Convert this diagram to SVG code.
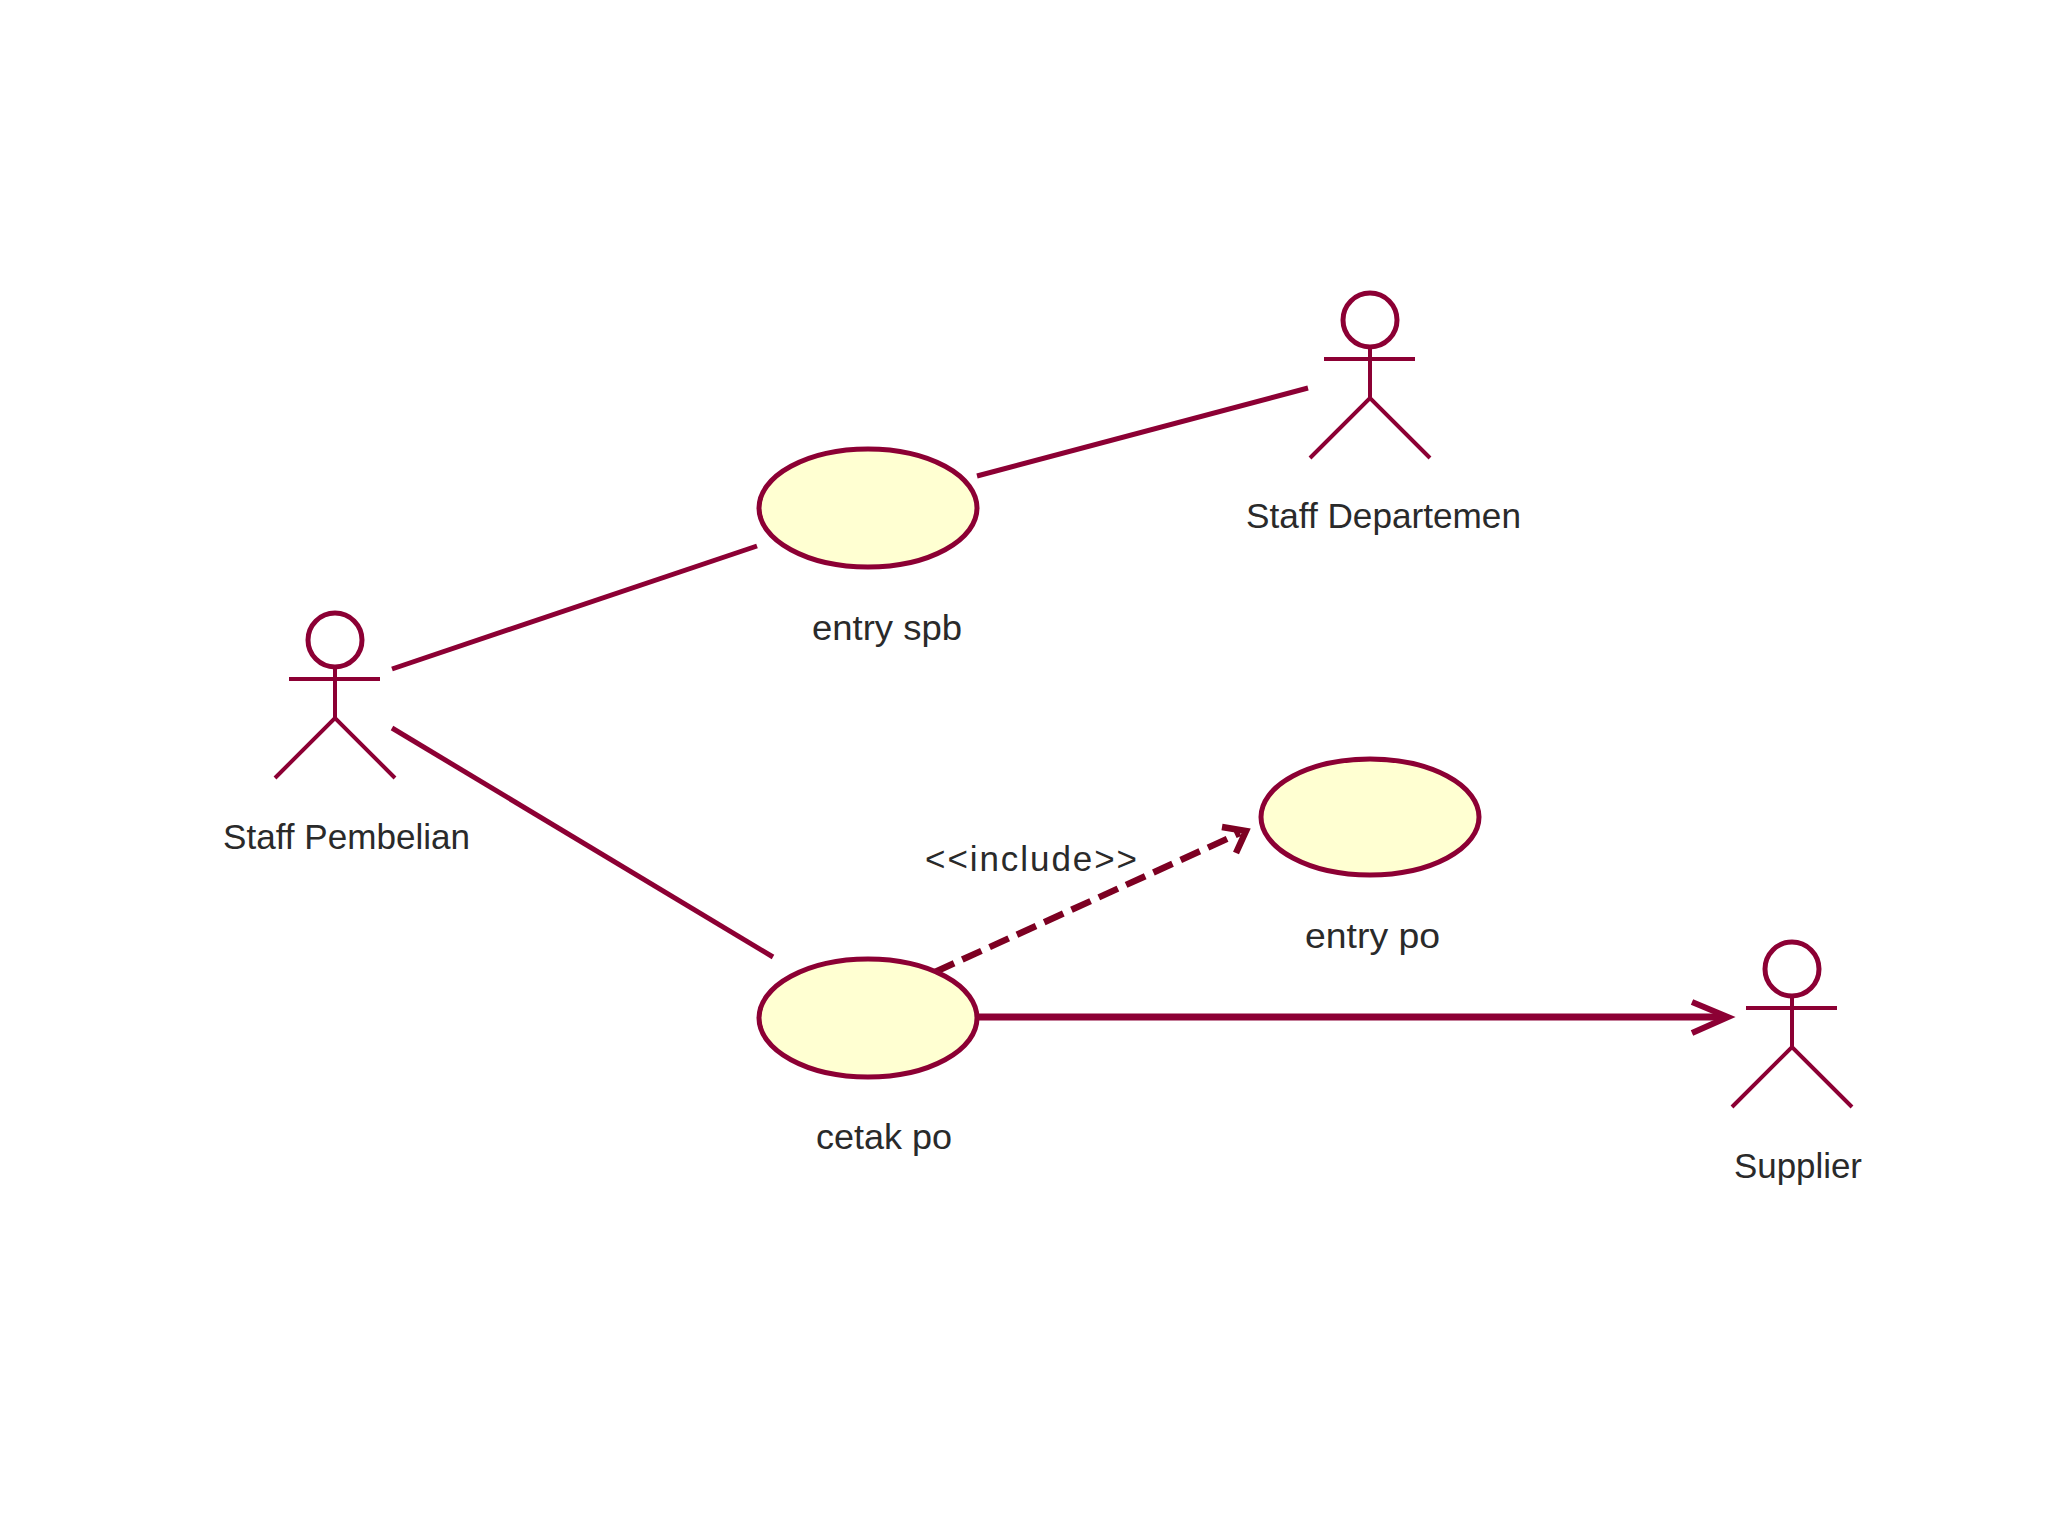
<svg xmlns="http://www.w3.org/2000/svg" width="2048" height="1536" viewBox="0 0 2048 1536">
<style>
.l{fill:none;stroke:#8c0034;stroke-width:4;stroke-linecap:butt;stroke-linejoin:miter}
.a{stroke-width:5}
.d{stroke:#7d0022;stroke-width:6.5}
.h{stroke-width:7}
.u{fill:#ffffd2;stroke:#8c0034;stroke-width:5}
.t{font-family:"Liberation Sans",Arial,sans-serif;font-size:35px;fill:#2a2a2a}
</style>
<defs>
<g id="actor"><circle class="l" cx="0" cy="-78" r="27" style="stroke-width:5"/><path class="l" d="M0,-51V0M-46,-39H45M-60,60L0,0L60,60"/></g>
</defs>
<rect width="2048" height="1536" fill="#fff"/>
<g id="connectors">
<path class="l a" d="M392,669L757,546"/>
<path class="l a" d="M977,476L1308,388"/>
<path class="l a" d="M392,728L773,957"/>
<path class="l d" stroke-dasharray="21 9" d="M935,972L1240,833"/>
<path class="l d" d="M1222,827L1246,831L1236,853"/>
<path class="l h" d="M978,1017H1725"/>
<path class="l" style="stroke-width:6" d="M1692,1002L1728,1017L1692,1033"/>
</g>
<g id="actor-pembelian"><use href="#actor" x="335" y="718"/><text class="t" x="223" y="849" textLength="247" lengthAdjust="spacingAndGlyphs">Staff Pembelian</text></g>
<g id="actor-departemen"><use href="#actor" x="1370" y="398"/><text class="t" x="1246" y="528" textLength="275" lengthAdjust="spacingAndGlyphs">Staff Departemen</text></g>
<g id="actor-supplier"><use href="#actor" x="1792" y="1047"/><text class="t" x="1734" y="1178" textLength="128" lengthAdjust="spacingAndGlyphs">Supplier</text></g>
<g id="uc-spb"><ellipse class="u" cx="868" cy="508" rx="109" ry="59"/><text class="t" x="812" y="640" textLength="150" lengthAdjust="spacingAndGlyphs">entry spb</text></g>
<g id="uc-po"><ellipse class="u" cx="1370" cy="817" rx="109" ry="58"/><text class="t" x="1305" y="948" textLength="135" lengthAdjust="spacingAndGlyphs">entry po</text></g>
<g id="uc-cetak"><ellipse class="u" cx="868" cy="1018" rx="109" ry="59"/><text class="t" x="816" y="1149" textLength="136" lengthAdjust="spacingAndGlyphs">cetak po</text></g>
<text class="t" id="lbl" x="925" y="871" textLength="212" lengthAdjust="spacing">&lt;&lt;include&gt;&gt;</text>
</svg>
